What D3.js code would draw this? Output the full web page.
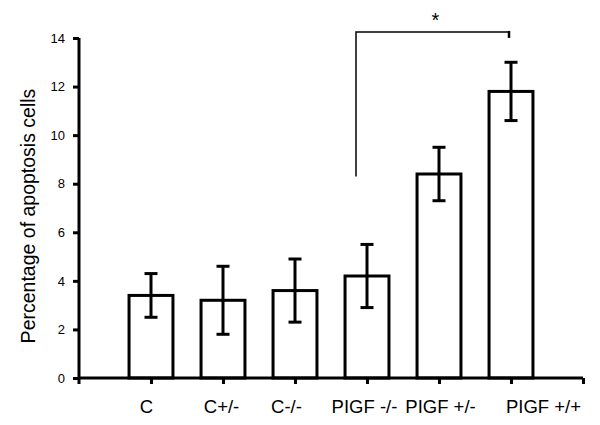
<!DOCTYPE html>
<html>
<head>
<meta charset="utf-8">
<script src="https://cdn.jsdelivr.net/npm/d3@7"></script>
<style>
  body { margin: 0; background: #fff; }
  text { font-family: "Liberation Sans", Arial, sans-serif; }
</style>
</head>
<body>
<div id="chart"></div>
<script>
// data
var categories = ["C", "C+/-", "C-/-", "PIGF -/-", "PIGF +/-", "PIGF +/+"]
var means = [3.4, 3.2, 3.6, 4.2, 8.4, 11.8]
var errors = [0.9, 1.4, 1.3, 1.3, 1.1, 1.2]
var yTicks = [0, 2, 4, 6, 8, 10, 12, 14]
// significance bracket: from PIGF -/- to PIGF +/+
var sigFrom = 3, sigTo = 5, sigLabel = "*"

var margin = {top: 38, right: 17, bottom: 47, left: 79},
    width = 600 - margin.left - margin.right,
    height = 425 - margin.top - margin.bottom;

// the labels in the figure are placed by hand, not exactly under the ticks
var labelNudge = [-5, -2, -9, -3, 1, 32];

var svg = d3.select("#chart").append("svg")
    .attr("width", 600)
    .attr("height", 425)
  .append("g")
    .attr("transform", "translate(" + margin.left + "," + margin.top + ")");

// category i sits on tick i+1, axis spans one extra slot each side
var x = d3.scaleLinear()
          .domain([0, categories.length + 1])
          .range([0, width]);
var y = d3.scaleLinear()
          .domain([0, 14])
          .range([height, 0]);

var slot = x(1) - x(0);
var barW = slot * 0.61;

// bars
svg.selectAll(".bar")
    .data(categories)
    .enter()
    .append("rect")
    .attr("class", "bar")
    .attr("x", function(d, i) { return x(i + 1) - barW / 2; })
    .attr("width", barW)
    .attr("y", function(d, i) { return y(means[i]); })
    .attr("height", function(d, i) { return height - y(means[i]); })
    .attr("fill", "#fff")
    .attr("stroke", "#000")
    .attr("stroke-width", 3);

// error bars
var capW = 13;
var err = svg.selectAll(".err")
    .data(categories)
    .enter()
    .append("g")
    .attr("class", "err")
    .attr("stroke", "#000")
    .attr("stroke-width", 3);
err.append("line")
    .attr("x1", function(d, i) { return x(i + 1); })
    .attr("x2", function(d, i) { return x(i + 1); })
    .attr("y1", function(d, i) { return y(means[i] + errors[i]); })
    .attr("y2", function(d, i) { return y(means[i] - errors[i]); });
err.append("line")
    .attr("x1", function(d, i) { return x(i + 1) - capW / 2; })
    .attr("x2", function(d, i) { return x(i + 1) + capW / 2; })
    .attr("y1", function(d, i) { return y(means[i] + errors[i]); })
    .attr("y2", function(d, i) { return y(means[i] + errors[i]); });
err.append("line")
    .attr("x1", function(d, i) { return x(i + 1) - capW / 2; })
    .attr("x2", function(d, i) { return x(i + 1) + capW / 2; })
    .attr("y1", function(d, i) { return y(means[i] - errors[i]); })
    .attr("y2", function(d, i) { return y(means[i] - errors[i]); });

// x axis
var xAxis = svg.append("g")
    .attr("class", "xaxis")
    .attr("transform", "translate(0," + height + ")")
    .call(d3.axisBottom(x)
      .tickValues(d3.range(1, categories.length + 2))
      .tickSize(6)
      .tickPadding(16)
      .tickFormat(function(d) { return categories[d - 1] || ""; }));
xAxis.select(".domain").attr("stroke-width", 3).attr("d", "M0,0H" + width);
xAxis.selectAll(".tick line").attr("stroke-width", 3);
xAxis.selectAll("text")
    .style("font-size", "18.5px")
    .attr("fill", "#000")
    .attr("dx", function(d) { return labelNudge[d - 1] || 0; });

// y axis
var yAxis = svg.append("g")
    .attr("class", "yaxis")
    .call(d3.axisLeft(y)
      .tickValues(yTicks)
      .tickSize(6)
      .tickPadding(8));
yAxis.select(".domain").attr("stroke-width", 3).attr("d", "M0,0V" + (height + 6));
yAxis.selectAll(".tick line").attr("stroke-width", 3);
yAxis.selectAll("text").style("font-size", "13px").attr("fill", "#000");

// y label
svg.append("text")
    .attr("fill", "black")
    .attr("transform", "rotate(-90)")
    .attr("x", -(216 - margin.top))
    .attr("y", -44)
    .style("text-anchor", "middle")
    .style("font-size", "19.5px")
    .text("Percentage of apoptosis cells");

// significance bracket
var bx1 = x(sigFrom + 1) - 11, bx2 = x(sigTo + 1) - 2;
var byTop = y(14.25), byLeft = y(8.3);
svg.append("path")
    .attr("d", "M" + bx1 + "," + byLeft + "V" + byTop + "H" + bx2)
    .attr("fill", "none")
    .attr("stroke", "#000")
    .attr("stroke-width", 1.5);
svg.append("line")
    .attr("x1", bx2).attr("x2", bx2)
    .attr("y1", byTop - 1).attr("y2", byTop + 6)
    .attr("stroke", "#000")
    .attr("stroke-width", 2.5);
svg.append("text")
    .attr("x", (bx1 + bx2) / 2 + 3)
    .attr("y", byTop - 5)
    .style("text-anchor", "middle")
    .style("font-size", "20px")
    .text(sigLabel);
</script>
</body>
</html>
